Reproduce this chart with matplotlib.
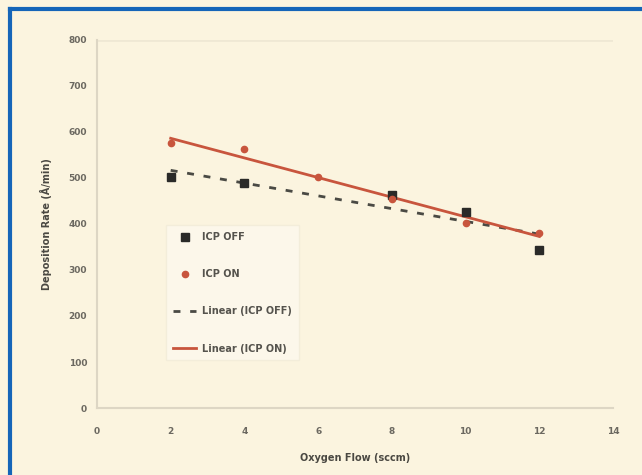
import matplotlib.pyplot as plt
import numpy as np
from matplotlib.lines import Line2D

# oxygen flow (sccm) and deposition rate (A/min)
flow_off = [2, 4, 8, 10, 12]
rate_off = [501, 488, 464, 425, 344]
flow_on = [2, 4, 6, 8, 10, 12]
rate_on = [575, 562, 501, 455, 403, 381]

x_ticks = [0, 2, 4, 6, 8, 10, 12, 14]
y_ticks = [0, 100, 200, 300, 400, 500, 600, 700, 800]

BG = "#fbf4df"
RED = "#c8553d"
GREY = "#6b6860"

fig = plt.figure(figsize=(6.42, 4.75), dpi=100, facecolor=BG)
ax = fig.add_axes([0.151, 0.141, 0.804, 0.775])
ax.set_facecolor(BG)

# blue frame (left and top edges visible)
fig.add_artist(Line2D([0.016, 0.016], [0.0, 0.981], color="#1565b8", lw=3,
                      transform=fig.transFigure))
fig.add_artist(Line2D([0.016, 1.0], [0.981, 0.981], color="#1565b8", lw=3,
                      transform=fig.transFigure))

# trend lines
xs = np.array([2, 12])
k_off, b_off = np.polyfit(flow_off, rate_off, 1)
k_on, b_on = np.polyfit(flow_on, rate_on, 1)
ax.plot(xs, k_off * xs + b_off, color="#4a4a44", lw=2, ls=(0, (2.5, 3.5)),
        label="Linear (ICP OFF)", zorder=2)
ax.plot(xs, k_on * xs + b_on, color=RED, lw=2, label="Linear (ICP ON)", zorder=2)

ax.plot(flow_off, rate_off, "s", color="#2a2a28", ms=5.5, ls="none",
        label="ICP OFF", zorder=3)
ax.plot(flow_on, rate_on, "o", color=RED, ms=4.5, ls="none",
        label="ICP ON", zorder=3)

ax.set_xlim(0, 14)
ax.set_ylim(0, 800)
ax.set_xticks(x_ticks)
ax.set_yticks(y_ticks)
ax.tick_params(labelsize=6.5, colors=GREY, length=0)
ax.tick_params(axis="x", pad=14)
ax.tick_params(axis="y", pad=7)
for lab in ax.get_xticklabels() + ax.get_yticklabels():
    lab.set_fontweight("bold")

for s in ["top", "right"]:
    ax.spines[s].set_visible(False)
for s in ["left", "bottom"]:
    ax.spines[s].set_color("#ddd6c4")
    ax.spines[s].set_linewidth(1.5)
ax.axhline(800, color="#efe8d4", lw=2, zorder=0)

ax.set_xlabel("Oxygen Flow (sccm)", fontsize=7, fontweight="bold", color="#4a4842",
              labelpad=12)
ax.set_ylabel("Deposition Rate (Å/min)", fontsize=7, fontweight="bold", color="#4a4842",
              labelpad=12)

handles, labels = ax.get_legend_handles_labels()
order = [2, 3, 0, 1]
leg = ax.legend([handles[i] for i in order], [labels[i] for i in order],
                loc="upper left", bbox_to_anchor=(0.125, 0.51),
                frameon=True, facecolor="#fdf9ee", edgecolor="#f1ebd8",
                fancybox=False, labelspacing=2.8, handlelength=2.4,
                handletextpad=0.6, borderpad=0.7,
                prop={"weight": "bold", "size": 7})
for t in leg.get_texts():
    t.set_color("#55534d")

fig.savefig("out.png", dpi=100, facecolor=BG)
